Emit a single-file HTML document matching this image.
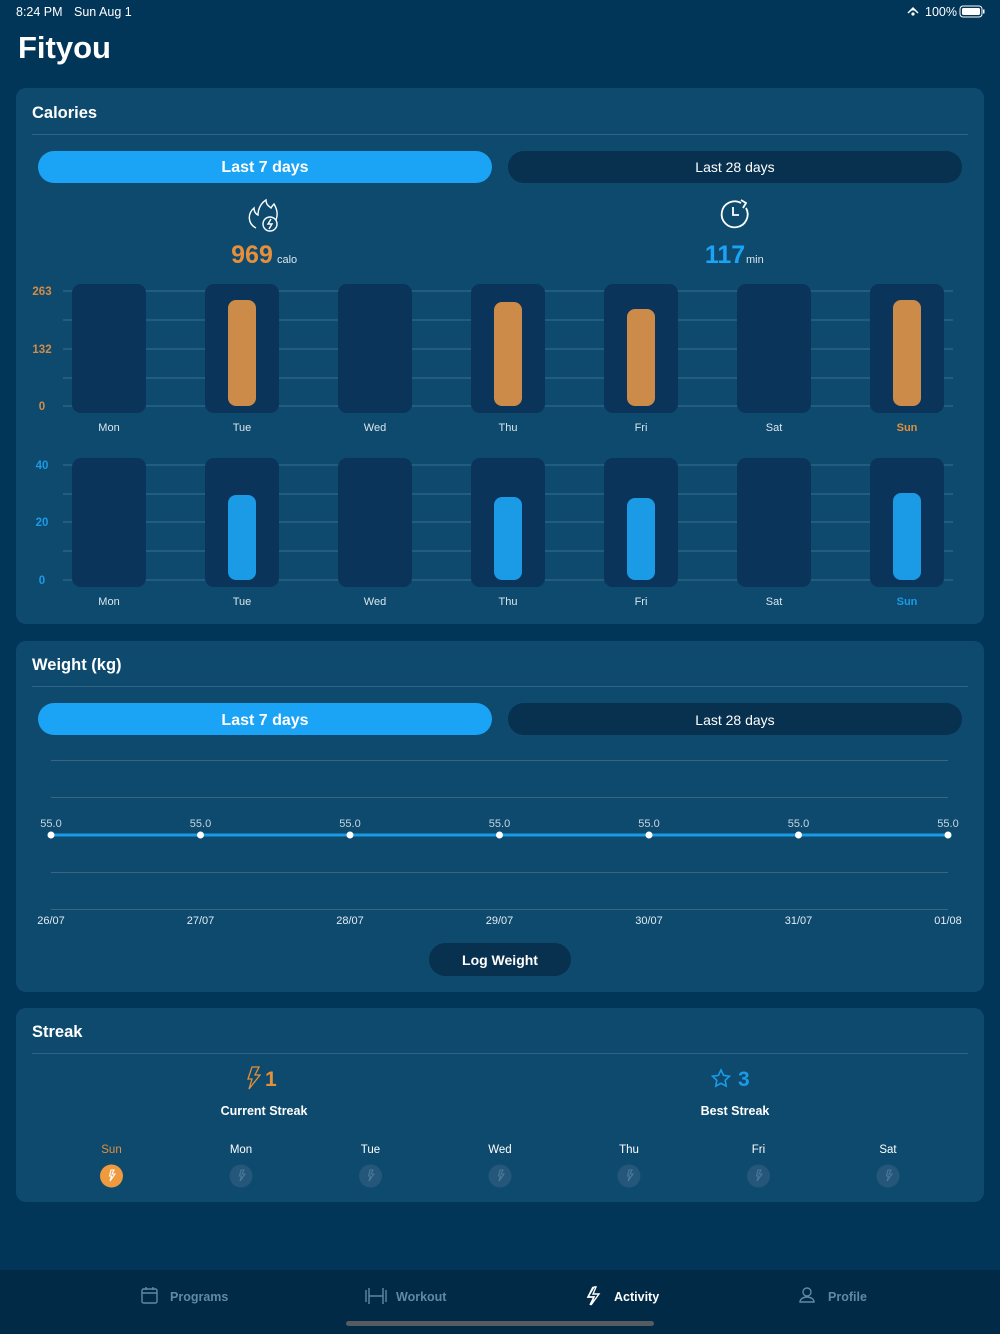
<!DOCTYPE html>
<html><head><meta charset="utf-8"><style>
html,body{margin:0;padding:0;background:#023659;}
svg{display:block}
text{font-family:"Liberation Sans",sans-serif;}
</style></head><body>
<svg width="1000" height="1334" viewBox="0 0 1000 1334" xmlns="http://www.w3.org/2000/svg">
<rect width="1000" height="1334" fill="#023659"/>
<!-- status bar -->
<text x="16" y="16" font-size="12.5" fill="#fff">8:24 PM</text>
<text x="74" y="16" font-size="12.5" fill="#fff">Sun Aug 1</text>
<text x="925" y="16" font-size="12.5" fill="#fff">100%</text>
<path d="M908 13 l5 -5 l5 5 M910 11 a4 4 0 0 1 6 0" stroke="#fff" stroke-width="1.5" fill="none"/>
<circle cx="913" cy="14" r="1.6" fill="#fff"/>
<rect x="960" y="6" width="22" height="11" rx="3" fill="none" stroke="#fff" stroke-width="1"/>
<rect x="962" y="8" width="18" height="7" rx="1.5" fill="#fff"/>
<rect x="983" y="9.5" width="1.5" height="4" fill="#fff"/>
<text x="18" y="58" font-size="31" font-weight="bold" fill="#fff">Fityou</text>

<!-- Calories card -->
<rect x="16" y="88" width="968" height="536" rx="10" fill="#0e4a6e"/>
<text x="32" y="118" font-size="16.5" font-weight="bold" fill="#fff">Calories</text>
<rect x="32" y="134" width="936" height="1" fill="#2f6384"/>
<rect x="38" y="151" width="454" height="32" rx="16" fill="#1ba3f5"/>
<text x="265" y="172" font-size="16" font-weight="bold" fill="#fff" text-anchor="middle">Last 7 days</text>
<rect x="508" y="151" width="454" height="32" rx="16" fill="#08304f"/>
<text x="735" y="172" font-size="14" fill="#fff" text-anchor="middle">Last 28 days</text>
<!-- flame icon -->
<g stroke="#fff" stroke-width="1.4" fill="none">
<path d="M256 228 c-8 -4 -9 -14 -2 -20 c0 4 2 6 4 7 c0 -6 3 -12 8 -15 c0 5 3 6 5 8 c1 -2 2 -3 3 -4 c3 5 4 11 2 16"/>
<circle cx="270" cy="224" r="7"/>
<path d="M271 219 l-3 5 h4 l-3 5"/>
</g>
<text x="252" y="263" font-size="25" font-weight="bold" fill="#e38f3c" text-anchor="middle">969</text>
<text x="277" y="263" font-size="11" fill="#dbe6ee">calo</text>
<!-- clock icon -->
<g stroke="#fff" stroke-width="1.8" fill="none">
<path d="M746 208 a13 13 0 1 1 -5 -5"/>
<path d="M741 200 l5 3 l-3 5"/>
<path d="M733 207 v8 h6"/>
</g>
<text x="725" y="263" font-size="25" font-weight="bold" fill="#1ba3f5" text-anchor="middle">117</text>
<text x="746" y="263" font-size="11" fill="#dbe6ee">min</text>

<!-- calories chart -->
<g fill="#3a6e8f">
<rect x="63" y="290.5" width="890" height="1"/><rect x="63" y="319.5" width="890" height="1"/><rect x="63" y="348.5" width="890" height="1"/><rect x="63" y="377.5" width="890" height="1"/><rect x="63" y="405.5" width="890" height="1"/>
<rect x="63" y="464.5" width="890" height="1"/><rect x="63" y="493.5" width="890" height="1"/><rect x="63" y="521.5" width="890" height="1"/><rect x="63" y="550.5" width="890" height="1"/><rect x="63" y="579.5" width="890" height="1"/>
</g>
<g font-size="11.5" font-weight="bold" fill="#d38c47" text-anchor="middle">
<text x="42" y="295">263</text><text x="42" y="353">132</text><text x="42" y="410">0</text>
</g>
<g font-size="11.5" font-weight="bold" fill="#1b9ae6" text-anchor="middle">
<text x="42" y="469">40</text><text x="42" y="526">20</text><text x="42" y="584">0</text>
</g>
<g fill="#0a3459">
<rect x="72" y="284" width="74" height="129" rx="9"/><rect x="205" y="284" width="74" height="129" rx="9"/><rect x="338" y="284" width="74" height="129" rx="9"/><rect x="471" y="284" width="74" height="129" rx="9"/><rect x="604" y="284" width="74" height="129" rx="9"/><rect x="737" y="284" width="74" height="129" rx="9"/><rect x="870" y="284" width="74" height="129" rx="9"/>
<rect x="72" y="458" width="74" height="129" rx="9"/><rect x="205" y="458" width="74" height="129" rx="9"/><rect x="338" y="458" width="74" height="129" rx="9"/><rect x="471" y="458" width="74" height="129" rx="9"/><rect x="604" y="458" width="74" height="129" rx="9"/><rect x="737" y="458" width="74" height="129" rx="9"/><rect x="870" y="458" width="74" height="129" rx="9"/>
</g>
<g fill="#cc8b49">
<rect x="228" y="300" width="28" height="106" rx="8"/><rect x="494" y="302" width="28" height="104" rx="8"/><rect x="627" y="309" width="28" height="97" rx="8"/><rect x="893" y="300" width="28" height="106" rx="8"/>
</g>
<g fill="#1b9ae6">
<rect x="228" y="495" width="28" height="85" rx="8"/><rect x="494" y="497" width="28" height="83" rx="8"/><rect x="627" y="498" width="28" height="82" rx="8"/><rect x="893" y="493" width="28" height="87" rx="8"/>
</g>
<g font-size="11" fill="#dbe6ee" text-anchor="middle">
<text x="109" y="431">Mon</text><text x="242" y="431">Tue</text><text x="375" y="431">Wed</text><text x="508" y="431">Thu</text><text x="641" y="431">Fri</text><text x="774" y="431">Sat</text><text x="907" y="431" fill="#e38f3c" font-weight="bold">Sun</text>
<text x="109" y="605">Mon</text><text x="242" y="605">Tue</text><text x="375" y="605">Wed</text><text x="508" y="605">Thu</text><text x="641" y="605">Fri</text><text x="774" y="605">Sat</text><text x="907" y="605" fill="#1b9ae6" font-weight="bold">Sun</text>
</g>

<!-- Weight card -->
<rect x="16" y="641" width="968" height="351" rx="10" fill="#0e4a6e"/>
<text x="32" y="670" font-size="16.5" font-weight="bold" fill="#fff">Weight (kg)</text>
<rect x="32" y="686" width="936" height="1" fill="#2f6384"/>
<rect x="38" y="703" width="454" height="32" rx="16" fill="#1ba3f5"/>
<text x="265" y="725" font-size="16" font-weight="bold" fill="#fff" text-anchor="middle">Last 7 days</text>
<rect x="508" y="703" width="454" height="32" rx="16" fill="#08304f"/>
<text x="735" y="725" font-size="14" fill="#fff" text-anchor="middle">Last 28 days</text>
<g fill="#3a6480">
<rect x="51" y="760" width="897" height="1"/><rect x="51" y="797" width="897" height="1"/><rect x="51" y="872" width="897" height="1"/><rect x="51" y="909" width="897" height="1"/>
</g>
<rect x="51" y="833.5" width="897" height="3" fill="#1b9ae6"/>
<g fill="#fff">
<circle cx="51" cy="835" r="3.5"/><circle cx="200.5" cy="835" r="3.5"/><circle cx="350" cy="835" r="3.5"/><circle cx="499.5" cy="835" r="3.5"/><circle cx="649" cy="835" r="3.5"/><circle cx="798.5" cy="835" r="3.5"/><circle cx="948" cy="835" r="3.5"/>
</g>
<g font-size="11" fill="#c7d6e0" text-anchor="middle">
<text x="51" y="827">55.0</text><text x="200.5" y="827">55.0</text><text x="350" y="827">55.0</text><text x="499.5" y="827">55.0</text><text x="649" y="827">55.0</text><text x="798.5" y="827">55.0</text><text x="948" y="827">55.0</text>
</g>
<g font-size="11" fill="#e4ecf2" text-anchor="middle">
<text x="51" y="924">26/07</text><text x="200.5" y="924">27/07</text><text x="350" y="924">28/07</text><text x="499.5" y="924">29/07</text><text x="649" y="924">30/07</text><text x="798.5" y="924">31/07</text><text x="948" y="924">01/08</text>
</g>
<rect x="429" y="943" width="142" height="33" rx="16.5" fill="#08304f"/>
<text x="500" y="965" font-size="14" font-weight="bold" fill="#fff" text-anchor="middle">Log Weight</text>

<!-- Streak card -->
<rect x="16" y="1008" width="968" height="194" rx="10" fill="#0e4a6e"/>
<text x="32" y="1037" font-size="16.5" font-weight="bold" fill="#fff">Streak</text>
<rect x="32" y="1053" width="936" height="1" fill="#2f6384"/>
<path d="M252 1067 h7 l-4 8 h5 l-11 14 l3 -10 h-4 z" stroke="#e38f3c" stroke-width="1.3" fill="none"/>
<text x="265" y="1086" font-size="21" font-weight="bold" fill="#e38f3c">1</text>
<text x="264" y="1115" font-size="12.5" font-weight="bold" fill="#fff" text-anchor="middle">Current Streak</text>
<path d="M721 1070 l2.6 5.4 l5.9 .8 l-4.3 4.1 l1 5.8 l-5.2 -2.8 l-5.2 2.8 l1 -5.8 l-4.3 -4.1 l5.9 -.8 z" stroke="#1b9ae6" stroke-width="1.6" fill="none"/>
<text x="738" y="1086" font-size="21" font-weight="bold" fill="#1b9ae6">3</text>
<text x="735" y="1115" font-size="12.5" font-weight="bold" fill="#fff" text-anchor="middle">Best Streak</text>
<g font-size="11.5" fill="#fff" text-anchor="middle">
<text x="111.5" y="1153" fill="#e38f3c">Sun</text><text x="241" y="1153">Mon</text><text x="370.5" y="1153">Tue</text><text x="500" y="1153">Wed</text><text x="629" y="1153">Thu</text><text x="758.5" y="1153">Fri</text><text x="888" y="1153">Sat</text>
</g>
<circle cx="111.5" cy="1176" r="11.5" fill="#ef9a3e"/>
<g fill="#24577a">
<circle cx="241" cy="1176" r="11.5"/><circle cx="370.5" cy="1176" r="11.5"/><circle cx="500" cy="1176" r="11.5"/><circle cx="629" cy="1176" r="11.5"/><circle cx="758.5" cy="1176" r="11.5"/><circle cx="888" cy="1176" r="11.5"/>
</g>
<g fill="none" stroke-width="1.1">
<path d="M111 1170 h3 l-2 4 h3 l-5 7 l1.5 -5 h-2 z" stroke="#fff"/>
<path d="M241 1170 h3 l-2 4 h3 l-5 7 l1.5 -5 h-2 z" stroke="#4c7998"/>
<path d="M370 1170 h3 l-2 4 h3 l-5 7 l1.5 -5 h-2 z" stroke="#4c7998"/>
<path d="M500 1170 h3 l-2 4 h3 l-5 7 l1.5 -5 h-2 z" stroke="#4c7998"/>
<path d="M629 1170 h3 l-2 4 h3 l-5 7 l1.5 -5 h-2 z" stroke="#4c7998"/>
<path d="M758 1170 h3 l-2 4 h3 l-5 7 l1.5 -5 h-2 z" stroke="#4c7998"/>
<path d="M888 1170 h3 l-2 4 h3 l-5 7 l1.5 -5 h-2 z" stroke="#4c7998"/>
</g>

<!-- tab bar -->
<rect x="0" y="1270" width="1000" height="64" fill="#012a47"/>
<g stroke="#5f8aa6" stroke-width="1.4" fill="none">
<rect x="142" y="1289" width="15" height="14" rx="1.5"/><path d="M142 1293 h15 M146 1287 v3 M153 1287 v3"/>
<path d="M366 1290 v12 M369 1288 v16 M383 1288 v16 M386 1290 v12 M369 1296 h14"/>
<circle cx="807" cy="1292" r="4"/><path d="M800 1302 a7 5 0 0 1 14 0 z"/>
</g>
<path d="M593 1287 l-5 10 h6 l-4 8 M593 1287 h0" stroke="#fff" stroke-width="1.5" fill="none"/>
<path d="M594 1287 l-6 10 h6 l-3 8 l8 -11 h-6 l3 -7 z" stroke="#fff" stroke-width="1.4" fill="none"/>
<g font-size="12.5" font-weight="bold">
<text x="170" y="1301" fill="#5f8aa6">Programs</text>
<text x="396" y="1301" fill="#5f8aa6">Workout</text>
<text x="614" y="1301" fill="#fff">Activity</text>
<text x="828" y="1301" fill="#5f8aa6">Profile</text>
</g>
<rect x="346" y="1321" width="308" height="5" rx="2.5" fill="#555b60"/>
</svg>
</body></html>
